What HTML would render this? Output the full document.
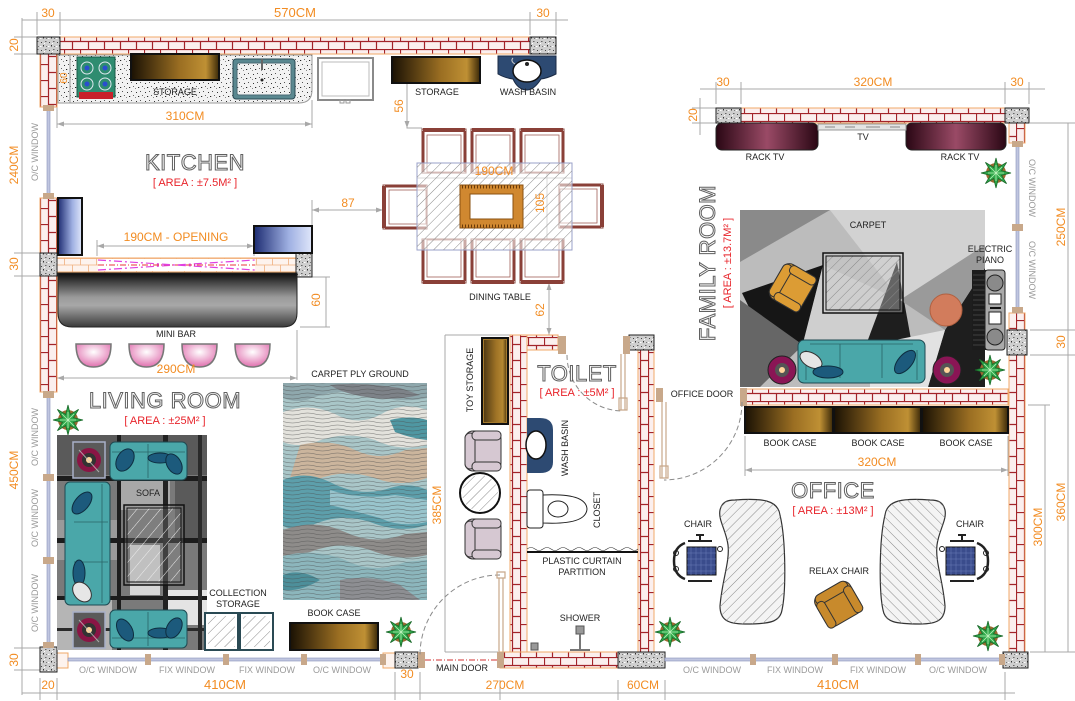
<!DOCTYPE html>
<html><head><meta charset="utf-8">
<style>
html,body{margin:0;padding:0;background:#fff;}
svg{display:block;}
text{font-family:"Liberation Sans",sans-serif;}
.d{fill:#f28c22;font-size:12px;}
.l{fill:#222;font-size:9px;}
.w{fill:#9a9a9a;font-size:9px;}
.a{fill:#e8232a;font-size:11px;}
.t{fill:#fff;stroke:#606060;stroke-width:1;font-size:22px;letter-spacing:0.5px;}
</style></head><body>
<svg width="1075" height="701" viewBox="0 0 1075 701" xmlns="http://www.w3.org/2000/svg">
<defs>
<pattern id="bh" width="16" height="16" patternUnits="userSpaceOnUse" y="1">
<rect width="16" height="16" fill="#fbefee"/>
<path d="M0 0.5H16M0 8.5H16M0.5 0V8.5M8.5 8.5V16" stroke="#a3242a" stroke-width="1.2" fill="none"/>
</pattern>
<pattern id="bv" width="16" height="16" patternUnits="userSpaceOnUse" x="40">
<rect width="16" height="16" fill="#fbefee"/>
<path d="M0.5 0V16M8.5 0V16M0 0.5H8.5M8.5 8.5H16" stroke="#a3242a" stroke-width="1.2" fill="none"/>
</pattern>
<pattern id="bo" width="16" height="14" patternUnits="userSpaceOnUse" y="258">
<rect width="16" height="14" fill="#fdf3ee"/>
<path d="M0 0.5H16M0 7H16M0.5 0V7M8.5 7V14" stroke="#f0b080" stroke-width="0.8" fill="none"/>
</pattern>
<pattern id="gr" width="8" height="8" patternUnits="userSpaceOnUse">
<rect width="8" height="8" fill="#cfcfcf"/>
<rect x="1" y="2" width="1" height="1" fill="#444"/>
<rect x="5" y="1" width="1.5" height="1" fill="#666"/>
<rect x="3" y="5" width="1" height="1.5" fill="#333"/>
<rect x="6" y="6" width="1" height="1" fill="#777"/>
<rect x="0" y="6" width="1.5" height="1" fill="#fff"/>
<rect x="4" y="3" width="1" height="1" fill="#fff"/>
</pattern>
<pattern id="gk" width="9" height="9" patternUnits="userSpaceOnUse">
<rect width="9" height="9" fill="#f2f2f2"/>
<rect x="1" y="2" width="1" height="1" fill="#333"/>
<rect x="5" y="1" width="1" height="1" fill="#555"/>
<rect x="3" y="6" width="1.2" height="1" fill="#222"/>
<rect x="7" y="5" width="1" height="1" fill="#666"/>
<rect x="0" y="7" width="1" height="1" fill="#888"/>
</pattern>
<pattern id="ht" width="7" height="7" patternUnits="userSpaceOnUse" patternTransform="rotate(45)">
<path d="M0 0V7" stroke="#8a8a8a" stroke-width="1"/>
</pattern>
<pattern id="htw" width="9" height="9" patternUnits="userSpaceOnUse" patternTransform="rotate(40)">
<path d="M0 0V9" stroke="#eee" stroke-width="1"/>
</pattern>
<pattern id="wv" width="30" height="4" patternUnits="userSpaceOnUse">
<path d="M0 2 Q7.5 0 15 2 T30 2" stroke="#4a4a4a" stroke-width="0.6" fill="none" opacity="0.7"/>
</pattern>
<linearGradient id="gB" x1="0" x2="1" y1="0" y2="0">
<stop offset="0" stop-color="#1a1104"/><stop offset="0.55" stop-color="#9a6e22"/><stop offset="0.85" stop-color="#bf9034"/><stop offset="1" stop-color="#3a2808"/>
</linearGradient>
<linearGradient id="gBl" x1="0" x2="1" y1="0" y2="0">
<stop offset="0" stop-color="#1d2c72"/><stop offset="0.6" stop-color="#9fb0e2"/><stop offset="1" stop-color="#dfe6fa"/>
</linearGradient>
<linearGradient id="gBar" x1="0" x2="0" y1="0" y2="1">
<stop offset="0" stop-color="#0c0c0c"/><stop offset="0.45" stop-color="#9a9a9a"/><stop offset="0.6" stop-color="#a8a8a8"/><stop offset="1" stop-color="#3a3a3a"/>
</linearGradient>
<linearGradient id="gR" x1="0" x2="1" y1="0" y2="0">
<stop offset="0" stop-color="#2a0714"/><stop offset="0.5" stop-color="#9a4a66"/><stop offset="1" stop-color="#2a0714"/>
</linearGradient>
<radialGradient id="gP" cx="0.5" cy="0.35" r="0.6">
<stop offset="0" stop-color="#fff"/><stop offset="1" stop-color="#e27ab4"/>
</radialGradient>
<g id="plant">
<circle r="10" fill="#9a6a30"/>
<polygon points="15,0 5.5,2.3 10.6,10.6 2.3,5.5 0,15 -2.3,5.5 -10.6,10.6 -5.5,2.3 -15,0 -5.5,-2.3 -10.6,-10.6 -2.3,-5.5 0,-15 2.3,-5.5 10.6,-10.6 5.5,-2.3" fill="#2fa84a" stroke="#1a6a2a" stroke-width="0.8"/>
<path d="M-8 0H8M0 -8V8M-6 -6L6 6M-6 6L6 -6" stroke="#b8f0b8" stroke-width="0.8"/>
</g>
<g id="ac">
<rect x="-20" y="-18" width="40" height="36" rx="8" fill="currentColor" stroke="#333"/>
<rect x="-18" y="-18" width="36" height="10" rx="5" fill="currentColor" stroke="#333"/>
<rect x="-20" y="-11" width="9" height="29" rx="4" fill="currentColor" stroke="#333"/>
<rect x="11" y="-11" width="9" height="29" rx="4" fill="currentColor" stroke="#333"/>
</g>
<g id="chairD">
<rect x="0" y="0" width="44" height="44" fill="#fff" stroke="#8a4a40" stroke-width="1"/>
<path d="M1 1H43" stroke="#8a4038" stroke-width="4"/>
<path d="M1 2V43M43 2V43" stroke="#8a4038" stroke-width="3"/>
<rect x="5" y="6" width="34" height="37" fill="none" stroke="#a06058" stroke-width="0.8"/>
</g>
<g id="rug">
<rect x="0" y="0" width="32" height="36" fill="#5a5a5a" stroke="#a8b0c8" stroke-width="1.5"/>
<circle cx="16" cy="18" r="12" fill="#8a1545"/>
<circle cx="16" cy="18" r="7" fill="#333"/>
<circle cx="16" cy="18" r="3" fill="#ffd49a"/>
<path d="M6 8L26 30" stroke="#ccc" stroke-width="1" opacity="0.7"/>
</g>
<g id="ochair">
<rect x="-13" y="-14" width="29" height="28" fill="#3a4c8c" stroke="#111"/>
<path d="M-9 -14V14M-4 -14V14M1 -14V14M6 -14V14M11 -14V14M-13 -8H16M-13 -2H16M-13 4H16M-13 10H16" stroke="#6a7cb8" stroke-width="0.5"/>
<path d="M-15 -18Q-26 -14 -26 0Q-26 14 -15 18" stroke="#222" stroke-width="2.5" fill="none"/>
<path d="M-12 -20H12M-12 20H12M0 -26V-20M-4 -26H4" stroke="#222" stroke-width="2" fill="none"/>
<circle cx="-24" cy="-8" r="2.5" fill="none" stroke="#222"/><circle cx="-24" cy="8" r="2.5" fill="none" stroke="#222"/>
<circle cx="20" cy="-12" r="2.5" fill="none" stroke="#222"/>
</g>
</defs>

<rect width="1075" height="701" fill="#fff"/>

<!-- ============ DIMENSION LINES ============ -->
<g stroke="#a8a8a8" stroke-width="1" fill="none">
<path d="M22 20H568M37 12V35M60 12V35M530 12V35M556 12V35"/>
<path d="M22 18V695M14 37H40M14 54H40M14 253H40M14 276H40M14 648H40M14 670H40"/>
<path d="M22 693H1015M40 678V700M57 678V700M395 672V700M420 672V700M500 680V700M618 680V700M665 680V700M1005 672V700"/>
<path d="M57 124H312M57 106V128M312 100V128"/>
<path d="M70 55V103"/>
<path d="M407 84V128H422"/>
<path d="M312 210H383M312 200V226"/>
<path d="M417 178H572M547 163V250"/>
<path d="M549 283V335"/>
<path d="M97 246H254M97 240V256M254 240V256"/>
<path d="M300 277H330M326 277V327M300 327H330"/>
<path d="M57 378H297M297 330V380"/>
<path d="M445 335H510M445 335V652M445 652H498"/>
<path d="M700 89H1045M716 82V104M741 82V104M1005 82V104M1029 82V104"/>
<path d="M700 98V135M692 108H716M692 123H716"/>
<path d="M1068 123V652M1030 123H1075M1030 330H1075M1030 355H1075M1030 652H1075"/>
<path d="M1045 405V652M1028 405H1050"/>
<path d="M745 470H1008M745 436V476M1008 436V476"/>
</g>
<g fill="#a8a8a8">
<path d="M312 210l7 -2.5v5z M383 210l-7 -2.5v5z"/>
<path d="M549 283l-2.5 7h5z M549 335l-2.5 -7h5z"/>
<path d="M407 128l-2.5 -7h5z"/>
<path d="M97 246l7 -2.5v5z M254 246l-7 -2.5v5z"/>
<path d="M57 124l7 -2.5v5z M312 124l-7 -2.5v5z"/>
<path d="M57 378l7 -2.5v5z M297 378l-7 -2.5v5z"/>
<path d="M745 470l7 -2.5v5z M1008 470l-7 -2.5v5z"/>
</g>

<!-- ============ WALLS ============ -->
<g stroke="#f0a868" stroke-width="1">
<rect x="60" y="37" width="470" height="17" fill="url(#bh)"/>
<rect x="40" y="54" width="17" height="53" fill="url(#bv)"/>
<rect x="40" y="198" width="17" height="55" fill="url(#bv)"/>
<rect x="40" y="276" width="17" height="116" fill="url(#bv)"/>
<rect x="57" y="258" width="239" height="14" fill="url(#bo)"/>
<rect x="741" y="108" width="264" height="15" fill="url(#bh)"/>
<rect x="1009" y="123" width="16" height="20" fill="url(#bv)"/>
<rect x="1009" y="313" width="16" height="17" fill="url(#bv)"/>
<rect x="1009" y="355" width="16" height="297" fill="url(#bv)"/>
<rect x="746" y="389" width="262" height="16" fill="url(#bh)"/>
<rect x="510" y="335" width="17" height="317" fill="url(#bv)"/>
<rect x="527" y="335" width="31" height="15" fill="url(#bh)"/>
<rect x="638" y="350" width="16" height="302" fill="url(#bv)"/>
<rect x="500" y="652" width="118" height="16" fill="url(#bh)"/>
<rect x="57" y="653" width="11" height="15" fill="#fdf3ee"/>
<rect x="383" y="653" width="12" height="15" fill="#fdf3ee"/>
</g>
<rect x="98" y="259" width="157" height="12" fill="#fff"/>
<path d="M98 265H255" stroke="#e8363a" stroke-width="1" stroke-dasharray="6 2 1 2"/>
<path d="M98 260L176 265L255 260M98 270L176 265L255 270" stroke="#e040e0" stroke-width="1.2" stroke-dasharray="8 3 2 3" fill="none"/>
<!-- granite pillars -->
<g fill="url(#gr)" stroke="#222" stroke-width="1">
<rect x="37" y="37" width="23" height="17"/>
<rect x="530" y="37" width="26" height="17"/>
<rect x="40" y="253" width="17" height="23"/>
<rect x="296" y="253" width="16" height="24"/>
<rect x="716" y="108" width="25" height="15"/>
<rect x="1005" y="108" width="24" height="15"/>
<rect x="1007" y="330" width="20" height="25"/>
<rect x="629" y="335" width="25" height="15"/>
<rect x="40" y="647" width="17" height="25"/>
<rect x="395" y="652" width="23" height="16"/>
<rect x="618" y="652" width="47" height="16"/>
<rect x="1003" y="652" width="25" height="16"/>
</g>
<!-- windows -->
<g fill="#c0c6e0" stroke="#8890b8" stroke-width="0.6">
<rect x="47" y="110" width="3" height="86"/>
<rect x="47" y="396" width="3" height="252"/>
<rect x="1016" y="143" width="3" height="170"/>
<rect x="68" y="658" width="315" height="3"/>
<rect x="665" y="658" width="338" height="3"/>
</g>
<g fill="#c8a88a">
<rect x="43" y="105" width="11" height="6"/><rect x="43" y="193" width="11" height="6"/>
<rect x="43" y="391" width="11" height="7"/><rect x="43" y="474" width="11" height="7"/><rect x="43" y="557" width="11" height="7"/><rect x="43" y="642" width="11" height="6"/>
<rect x="1012" y="141" width="11" height="6"/><rect x="1012" y="224" width="11" height="7"/><rect x="1012" y="307" width="11" height="6"/>
<rect x="145" y="654" width="6" height="11"/><rect x="223" y="654" width="6" height="11"/><rect x="301" y="654" width="6" height="11"/><rect x="380" y="654" width="6" height="11"/>
<rect x="418" y="652" width="7" height="16"/><rect x="497" y="652" width="7" height="16"/>
<rect x="750" y="654" width="6" height="11"/><rect x="832" y="654" width="6" height="11"/><rect x="915" y="654" width="6" height="11"/><rect x="999" y="654" width="6" height="11"/>
<rect x="558" y="336" width="8" height="18"/><rect x="623" y="336" width="7" height="18"/>
<rect x="740" y="388" width="7" height="18"/><rect x="656" y="388" width="7" height="14"/>
</g>
<path d="M425 660H497" stroke="#d03030" stroke-width="1" stroke-dasharray="6 2 1 2"/>
<!-- doors -->
<g stroke="#8a8a8a" stroke-width="1" fill="none" stroke-dasharray="5 3">
<path d="M500 575A80 80 0 0 0 420 655"/>
<path d="M567 355A56 56 0 0 0 623 411"/>
<path d="M742 402A78 78 0 0 1 664 480"/>
</g>
<g stroke="#c8a88a" stroke-width="1.2" fill="none">
<path d="M499 578V652M503 578V652"/><path d="M497 578h8v-6h-8z"/>
<path d="M621 354V410M625 354V410"/><path d="M619 398h8v12h-8z"/>
<path d="M662 402V478M666 402V478"/><path d="M660 466h8v12h-8z"/>
</g>

<!-- ============ KITCHEN ============ -->
<path d="M58 55H312V90Q312 103 299 103H58Z" fill="url(#gk)" stroke="#999"/>
<path d="M70 55V103" stroke="#999"/>
<rect x="77" y="57" width="38" height="40" fill="#2f8c70" stroke="#1a5a48"/>
<g fill="#2f8c70" stroke="#dfe8f0" stroke-width="1">
<circle cx="87" cy="68" r="6"/><circle cx="105" cy="68" r="6"/><circle cx="87" cy="84" r="6"/><circle cx="105" cy="84" r="6"/>
</g>
<g fill="#2a4ed0"><circle cx="87" cy="68" r="2.5"/><circle cx="105" cy="68" r="2.5"/><circle cx="87" cy="84" r="2.5"/><circle cx="105" cy="84" r="2.5"/></g>
<rect x="79" y="92" width="34" height="7" fill="#c8202a"/>
<rect x="131" y="54" width="88" height="26" fill="url(#gB)" stroke="#111" stroke-width="2"/>
<rect x="233" y="59" width="62" height="40" rx="3" fill="#5a8890" stroke="#2a4a54"/>
<rect x="237" y="63" width="54" height="32" rx="2" fill="url(#gk)" stroke="#4a6a74"/>
<path d="M262 59V70" stroke="#666" stroke-width="2"/><circle cx="262" cy="80" r="1.5" fill="#222"/>
<rect x="318" y="58" width="55" height="42" fill="#fff" stroke="#8a8a8a" stroke-width="2"/>
<rect x="322" y="62" width="47" height="34" fill="none" stroke="#bbb"/>
<rect x="340" y="100" width="4" height="3" fill="none" stroke="#999"/><rect x="346" y="100" width="4" height="3" fill="none" stroke="#999"/>
<rect x="392" y="57" width="88" height="26" fill="url(#gB)" stroke="#111" stroke-width="2"/>
<path d="M498 56H556V74Q548 78 541 79Q534 90 527 90Q518 90 513 79Q505 78 498 74Z" fill="#2d4a72" stroke="#1a2a44"/>
<ellipse cx="527" cy="71" rx="14" ry="11" fill="#fff" stroke="#111" stroke-width="1.5"/>
<circle cx="527" cy="64" r="2" fill="#222"/>
<path d="M513 58q-3 3 2 6" stroke="#ccc" fill="none"/>

<!-- dining -->
<use href="#chairD" x="422" y="129"/>
<use href="#chairD" x="471" y="129"/>
<use href="#chairD" x="520" y="129"/>
<use href="#chairD" transform="translate(383,229) rotate(-90)"/>
<use href="#chairD" transform="translate(603,184) rotate(90)"/>
<use href="#chairD" transform="translate(466,283) rotate(180)"/>
<use href="#chairD" transform="translate(515,283) rotate(180)"/>
<use href="#chairD" transform="translate(564,283) rotate(180)"/>
<rect x="417" y="163" width="155" height="87" fill="#fff" fill-opacity="0.55" stroke="#9aa0c8"/>
<rect x="417" y="163" width="155" height="87" fill="url(#ht)"/>
<rect x="460" y="185" width="63" height="43" fill="#d08830" stroke="#8a5010"/>
<path d="M462 187H521M462 226H521" stroke="#6a3a08" stroke-dasharray="1 2" stroke-width="3"/>
<rect x="470" y="194" width="43" height="25" fill="#fff" stroke="#8a5010"/>

<!-- kitchen opening boxes -->
<rect x="58" y="198" width="24" height="57" fill="url(#gBl)" stroke="#111" stroke-width="2"/>
<rect x="254" y="226" width="58" height="27" fill="url(#gBl)" stroke="#111" stroke-width="2"/>

<!-- mini bar -->
<path d="M58 273H297V313Q297 327 283 327H72Q58 327 58 313Z" fill="url(#gBar)" stroke="#222"/>
<g stroke="#777" stroke-width="1.5">
<path d="M76 344H111Q111 367 93.5 367Q76 367 76 344Z" fill="url(#gP)"/>
<path d="M129 344H164Q164 367 146.5 367Q129 367 129 344Z" fill="url(#gP)"/>
<path d="M182 344H217Q217 367 199.5 367Q182 367 182 344Z" fill="url(#gP)"/>
<path d="M235 344H270Q270 367 252.5 367Q235 367 235 344Z" fill="url(#gP)"/>
</g>

<!-- ============ LIVING ============ -->
<use href="#plant" x="68" y="420"/>
<rect x="57" y="435" width="150" height="215" fill="#7a7a7a"/>
<g>
<rect x="57" y="435" width="150" height="40" fill="#5a5a5a"/>
<rect x="120" y="480" width="50" height="30" fill="#a8a8a8"/>
<rect x="57" y="520" width="60" height="40" fill="#9a9a9a"/>
<rect x="130" y="545" width="30" height="50" fill="#d8d8d8"/>
<rect x="165" y="590" width="42" height="35" fill="#e4e4e4"/>
<rect x="57" y="600" width="55" height="50" fill="#b5b5b5"/>
<rect x="175" y="480" width="32" height="60" fill="#5a5a5a"/>
<rect x="57" y="476" width="150" height="5" fill="#1c1c1c"/>
<rect x="57" y="538" width="150" height="5" fill="#1c1c1c"/>
<rect x="57" y="596" width="150" height="4" fill="#1c1c1c"/>
<rect x="57" y="628" width="150" height="3" fill="#2a2a2a"/>
<rect x="117" y="435" width="4" height="215" fill="#1c1c1c"/>
<rect x="163" y="435" width="5" height="215" fill="#222"/>
<rect x="198" y="435" width="4" height="215" fill="#2a2a2a"/>
</g>
<use href="#rug" x="73" y="442"/>
<use href="#rug" x="73" y="612"/>
<g fill="#4aa7a9" stroke="#1f4a52" stroke-width="1">
<rect x="110" y="442" width="77" height="38" rx="5"/>
<rect x="65" y="482" width="45" height="123" rx="5"/>
<rect x="110" y="610" width="77" height="38" rx="5"/>
</g>
<path d="M148 444V478M112 452H185M74 522H108M74 562H108M148 612V646M112 638H185M102 484V603" stroke="#2a6468" stroke-width="0.8" fill="none"/>
<g fill="#1c5a7c" stroke="#0e2e40">
<ellipse cx="125" cy="460" rx="8" ry="12" transform="rotate(30 125 460)"/>
<ellipse cx="160" cy="458" rx="12" ry="5"/>
<ellipse cx="174" cy="464" rx="7" ry="11" transform="rotate(-30 174 464)"/>
<ellipse cx="82" cy="503" rx="7" ry="13" transform="rotate(40 82 503)"/>
<ellipse cx="79" cy="573" rx="6" ry="13"/>
<ellipse cx="125" cy="630" rx="7" ry="12" transform="rotate(-30 125 630)"/>
<ellipse cx="160" cy="633" rx="12" ry="5"/>
<ellipse cx="174" cy="628" rx="7" ry="11" transform="rotate(30 174 628)"/>
</g>
<ellipse cx="82" cy="592" rx="8" ry="11" transform="rotate(-40 82 592)" fill="#e6e6e6" stroke="#333"/>
<rect x="124" y="505" width="60" height="80" fill="#888" fill-opacity="0.3" stroke="#111" stroke-width="1.5"/>
<rect x="127" y="508" width="54" height="74" fill="url(#htw)" stroke="#111"/>

<!-- carpet ply ground -->
<rect x="283" y="383" width="144" height="217" fill="#a9c6c8"/>
<path d="M283 383H427V398Q400 404 370 394Q340 388 312 398Q298 404 283 398Z" fill="#8fa8ad"/>
<path d="M330 385Q360 382 400 388L420 395Q390 402 360 396Q340 392 330 385Z" fill="#7d8288"/>
<path d="M283 412Q310 402 335 414Q360 428 385 412Q405 402 427 410V445Q400 452 375 440Q345 430 315 442Q298 448 283 442Z" fill="#e3e2dc"/>
<path d="M300 445Q330 438 355 450Q380 462 405 450L427 448V478Q400 488 375 478Q345 468 315 480Q300 486 290 478Z" fill="#cbb59d"/>
<path d="M283 480Q305 470 330 482Q360 498 390 488Q410 482 427 490V525Q400 534 370 522Q340 512 310 526Q296 532 283 526Z" fill="#5d9fab"/>
<path d="M330 490Q360 500 395 495L427 500V522Q400 528 380 518Q350 510 330 505Z" fill="#98c4cc"/>
<path d="M283 530Q315 518 345 532Q375 546 405 534L427 532V555Q400 562 370 550Q340 540 310 552L283 556Z" fill="#8e8c8a"/>
<path d="M283 556Q315 548 345 560Q375 575 405 562L427 560V600H283Z" fill="#8cb6bc"/>
<path d="M283 575Q300 568 320 580Q300 592 283 590Z" fill="#4d8f9a"/>
<path d="M340 580Q370 574 400 585L420 600H340Z" fill="#8d8e92"/>
<path d="M390 420Q410 415 427 420V440Q410 438 395 432Z" fill="#4f97a2"/>
<rect x="283" y="383" width="144" height="217" fill="url(#wv)"/>

<!-- collection storage & bookcase -->
<rect x="205" y="613" width="33" height="37" fill="#fff" stroke="#2a4a54" stroke-width="2"/>
<rect x="240" y="613" width="33" height="37" fill="#fff" stroke="#2a4a54" stroke-width="2"/>
<rect x="208" y="616" width="27" height="31" fill="url(#ht)"/>
<rect x="243" y="616" width="27" height="31" fill="url(#ht)"/>
<rect x="290" y="623" width="88" height="27" fill="url(#gB)" stroke="#111" stroke-width="2"/>
<use href="#plant" x="401" y="632"/>

<!-- ============ TOILET ============ -->
<rect x="482" y="338" width="26" height="86" fill="#a57a2c" stroke="#111" stroke-width="2"/>
<rect x="484" y="340" width="22" height="82" fill="url(#gB)" opacity="0.6"/>
<use href="#ac" transform="translate(483,451) rotate(-90)" style="color:#d6c8d2"/>
<circle cx="480" cy="493" r="20" fill="#fff" stroke="#111" stroke-width="2"/>
<circle cx="480" cy="493" r="18" fill="url(#ht)"/>
<use href="#ac" transform="translate(483,539) rotate(-90)" style="color:#d6c8d2"/>
<path d="M527 418H540Q553 418 553 430V462Q553 473 540 473H527Z" fill="#2d4a72"/>
<ellipse cx="536" cy="445" rx="10" ry="14" fill="#fff" stroke="#111" stroke-width="1.5"/>
<rect x="527" y="490" width="16" height="38" rx="3" fill="#fff" stroke="#222"/>
<path d="M543 495Q586 493 587 509Q586 525 543 523Z" fill="#fff" stroke="#222"/>
<ellipse cx="558" cy="509" rx="10" ry="8" fill="none" stroke="#222"/>
<path d="M527 552H638" stroke="#111" stroke-width="2"/>
<path d="M527 549q4 -3 8 0t8 0t8 0t8 0t8 0t8 0t8 0t8 0t8 0t8 0t8 0t8 0t8 0t7 0" stroke="#333" stroke-width="0.6" fill="none"/>
<rect x="576" y="626" width="8" height="8" fill="#999" stroke="#555"/>
<path d="M580 634V650M570 650H590" stroke="#777" stroke-width="2"/>
<rect x="531" y="643" width="7" height="7" fill="#999" stroke="#555"/>

<!-- ============ FAMILY ROOM ============ -->
<rect x="716" y="123" width="102" height="27" rx="6" fill="url(#gR)" stroke="#222"/>
<rect x="906" y="123" width="100" height="27" rx="6" fill="url(#gR)" stroke="#222"/>
<rect x="818" y="124" width="88" height="6" fill="#e4e4e4" stroke="#999"/>
<path d="M825 127H835M845 127H855M866 127H880M890 127H900" stroke="#888"/>
<use href="#plant" x="996" y="173"/>
<rect x="740" y="210" width="245" height="177" fill="#bcbcbc"/>
<polygon points="740,210 830,210 740,262" fill="#8a8a8a"/>
<polygon points="830,210 985,210 985,245 900,300" fill="#d2d2d2"/>
<polygon points="742,293 823,265 803,345 760,330" fill="#161616"/>
<polygon points="740,300 803,345 760,387 740,387" fill="#666"/>
<polygon points="823,265 900,300 870,345 803,343" fill="#cfcfcf"/>
<polygon points="866,345 897,262 912,345" fill="#1e1e1e"/>
<polygon points="945,330 985,268 985,387 928,387" fill="#1e1e1e"/>
<polygon points="870,345 945,330 928,387 870,387" fill="#e2e2e2"/>
<polygon points="900,300 985,245 985,268 945,330" fill="#9a9a9a"/>
<rect x="823" y="253" width="80" height="60" fill="#ccc" fill-opacity="0.4" stroke="#111" stroke-width="1.5"/>
<rect x="826" y="256" width="74" height="54" fill="url(#ht)" stroke="#111"/>
<use href="#ac" transform="translate(792,287) rotate(-60)" style="color:#dc9c34"/>
<circle cx="946" cy="310" r="16" fill="#d27c5c" stroke="#b06040"/>
<rect x="972" y="270" width="14" height="80" fill="#1c1c1c"/>
<path d="M973 275H985M973 280H985M973 285H985M973 290H985M973 295H985M973 300H985M973 305H985M973 310H985M973 315H985M973 320H985M973 325H985M973 330H985M973 335H985M973 340H985M973 345H985" stroke="#666" stroke-width="0.5"/>
<rect x="985" y="270" width="20" height="80" rx="3" fill="#aaa" stroke="#222"/>
<circle cx="995" cy="283" r="8" fill="#8a8a8a" stroke="#222"/>
<circle cx="995" cy="337" r="8" fill="#8a8a8a" stroke="#222"/>
<rect x="989" y="294" width="12" height="10" fill="#fff" stroke="#222"/>
<rect x="989" y="312" width="12" height="12" fill="#fff" stroke="#222"/>
<path d="M990 308H1001" stroke="#111" stroke-width="2"/>
<circle cx="782" cy="370" r="14" fill="#8a1555" stroke="#222"/><circle cx="782" cy="370" r="7" fill="#555"/><circle cx="782" cy="370" r="3" fill="#ffd49a"/>
<circle cx="947" cy="370" r="14" fill="#8a1555" stroke="#222"/><circle cx="947" cy="370" r="7" fill="#555"/><circle cx="947" cy="370" r="3" fill="#ffd49a"/>
<rect x="798" y="340" width="127" height="43" rx="6" fill="#4aa7a9" stroke="#1f4a52"/>
<path d="M810 344H913M840 344V378M882 344V378M806 350V380M917 350V380" stroke="#2a6468" stroke-width="0.8" fill="none"/>
<ellipse cx="811" cy="360" rx="12" ry="7" transform="rotate(30 811 360)" fill="#e6e6e6" stroke="#333"/>
<ellipse cx="828" cy="372" rx="15" ry="6" fill="#1c5a7c" stroke="#0e2e40"/>
<ellipse cx="905" cy="362" rx="7" ry="14" transform="rotate(40 905 362)" fill="#1c5a7c" stroke="#0e2e40"/>
<use href="#plant" x="990" y="370"/>

<!-- ============ OFFICE ============ -->
<rect x="745" y="407" width="88" height="26" fill="url(#gB)" stroke="#111" stroke-width="2"/>
<rect x="834" y="407" width="87" height="26" fill="url(#gB)" stroke="#111" stroke-width="2"/>
<rect x="922" y="407" width="86" height="26" fill="url(#gB)" stroke="#111" stroke-width="2"/>
<path d="M735 500C762 498 778 500 780 515C786 540 786 592 782 610C780 622 770 624 745 624C728 624 720 620 720 606C722 580 730 562 728 545C726 530 718 520 720 510C722 502 727 500 735 500Z" fill="#f4f4f4" stroke="#333" stroke-width="1.2"/>
<path d="M735 500C762 498 778 500 780 515C786 540 786 592 782 610C780 622 770 624 745 624C728 624 720 620 720 606C722 580 730 562 728 545C726 530 718 520 720 510C722 502 727 500 735 500Z" fill="url(#ht)"/>
<g transform="translate(1665,0) scale(-1,1)">
<path d="M735 500C762 498 778 500 780 515C786 540 786 592 782 610C780 622 770 624 745 624C728 624 720 620 720 606C722 580 730 562 728 545C726 530 718 520 720 510C722 502 727 500 735 500Z" fill="#f4f4f4" stroke="#333" stroke-width="1.2"/>
<path d="M735 500C762 498 778 500 780 515C786 540 786 592 782 610C780 622 770 624 745 624C728 624 720 620 720 606C722 580 730 562 728 545C726 530 718 520 720 510C722 502 727 500 735 500Z" fill="url(#ht)"/>
</g>
<use href="#ochair" transform="translate(700,561)"/>
<use href="#ochair" transform="translate(962,561) scale(-1,1)"/>
<use href="#ac" transform="translate(838,604) rotate(-30)" style="color:#c88a2c"/>
<use href="#plant" x="670" y="632"/>
<use href="#plant" x="988" y="636"/>

<!-- ============ TEXT: DIMENSIONS ============ -->
<g class="d" text-anchor="middle">
<text x="48" y="17">30</text>
<text x="295" y="17" style="font-size:13px">570CM</text>
<text x="543" y="17">30</text>
<text transform="translate(14,45) rotate(-90)" y="4">20</text>
<text transform="translate(63,78) rotate(-90)" y="4" style="font-size:10px">60</text>
<text x="185" y="120">310CM</text>
<text transform="translate(14,165) rotate(-90)" y="4">240CM</text>
<text transform="translate(399,106) rotate(-90)" y="4">56</text>
<text x="348" y="207">87</text>
<text x="494" y="175">190CM</text>
<text transform="translate(540,203) rotate(-90)" y="4">105</text>
<text transform="translate(540,310) rotate(-90)" y="4">62</text>
<text x="176" y="241">190CM - OPENING</text>
<text transform="translate(14,264) rotate(-90)" y="4">30</text>
<text transform="translate(316,300) rotate(-90)" y="4">60</text>
<text x="176" y="373">290CM</text>
<text transform="translate(14,470) rotate(-90)" y="4">450CM</text>
<text transform="translate(437,505) rotate(-90)" y="4">385CM</text>
<text transform="translate(14,660) rotate(-90)" y="4">30</text>
<text x="48" y="689">20</text>
<text x="407" y="678">30</text>
<text x="225" y="689" style="font-size:13px">410CM</text>
<text x="505" y="689">270CM</text>
<text x="643" y="689">60CM</text>
<text x="838" y="689" style="font-size:13px">410CM</text>
<text x="723" y="86">30</text>
<text x="873" y="86">320CM</text>
<text x="1017" y="86">30</text>
<text transform="translate(693,115) rotate(-90)" y="4">20</text>
<text transform="translate(1061,227) rotate(-90)" y="4">250CM</text>
<text transform="translate(1061,342) rotate(-90)" y="4">30</text>
<text transform="translate(1061,502) rotate(-90)" y="4">360CM</text>
<text transform="translate(1038,527) rotate(-90)" y="4">300CM</text>
<text x="877" y="466">320CM</text>
</g>

<!-- ============ TEXT: LABELS ============ -->
<g class="l" text-anchor="middle">
<text x="175" y="95">STORAGE</text>
<text x="437" y="95">STORAGE</text>
<text x="528" y="95">WASH BASIN</text>
<text x="500" y="300">DINING TABLE</text>
<text x="176" y="337">MINI BAR</text>
<text x="360" y="377">CARPET PLY GROUND</text>
<text x="148" y="496">SOFA</text>
<text x="238" y="596">COLLECTION</text>
<text x="238" y="607">STORAGE</text>
<text x="334" y="616">BOOK CASE</text>
<text x="462" y="671">MAIN DOOR</text>
<text transform="translate(470,380) rotate(-90)" y="3">TOY STORAGE</text>
<text transform="translate(565,448) rotate(-90)" y="3">WASH BASIN</text>
<text transform="translate(597,510) rotate(-90)" y="3">CLOSET</text>
<text x="582" y="564">PLASTIC CURTAIN</text>
<text x="582" y="575">PARTITION</text>
<text x="580" y="621">SHOWER</text>
<text x="702" y="397">OFFICE DOOR</text>
<text x="765" y="160">RACK TV</text>
<text x="863" y="140">TV</text>
<text x="960" y="160">RACK TV</text>
<text x="868" y="228">CARPET</text>
<text x="990" y="252">ELECTRIC</text>
<text x="990" y="263">PIANO</text>
<text x="790" y="446">BOOK CASE</text>
<text x="878" y="446">BOOK CASE</text>
<text x="966" y="446">BOOK CASE</text>
<text x="698" y="527">CHAIR</text>
<text x="970" y="527">CHAIR</text>
<text x="839" y="574">RELAX CHAIR</text>
</g>
<g class="w" text-anchor="middle">
<text transform="translate(35,152) rotate(-90)" y="3">O/C WINDOW</text>
<text transform="translate(35,437) rotate(-90)" y="3">O/C WINDOW</text>
<text transform="translate(35,518) rotate(-90)" y="3">O/C WINDOW</text>
<text transform="translate(35,603) rotate(-90)" y="3">O/C WINDOW</text>
<text transform="translate(1032,188) rotate(90)" y="3">O/C WINDOW</text>
<text transform="translate(1032,270) rotate(90)" y="3">O/C WINDOW</text>
<text x="108" y="673">O/C WINDOW</text>
<text x="187" y="673">FIX WINDOW</text>
<text x="267" y="673">FIX WINDOW</text>
<text x="342" y="673">O/C WINDOW</text>
<text x="712" y="673">O/C WINDOW</text>
<text x="795" y="673">FIX WINDOW</text>
<text x="878" y="673">FIX WINDOW</text>
<text x="958" y="673">O/C WINDOW</text>
</g>
<g class="t" text-anchor="middle">
<text x="195" y="170">KITCHEN</text>
<text x="165" y="408">LIVING ROOM</text>
<text x="577" y="381">TOILET</text>
<text x="833" y="498">OFFICE</text>
<text transform="translate(707,263) rotate(-90)" y="8">FAMILY ROOM</text>
</g>
<g class="a" text-anchor="middle">
<text x="195" y="186">[ AREA : ±7.5M² ]</text>
<text x="165" y="424">[ AREA : ±25M² ]</text>
<text x="577" y="396">[ AREA : ±5M² ]</text>
<text x="833" y="514">[ AREA : ±13M² ]</text>
<text transform="translate(727,263) rotate(-90)" y="4">[ AREA : ±13.7M² ]</text>
</g>
</svg>
</body></html>
